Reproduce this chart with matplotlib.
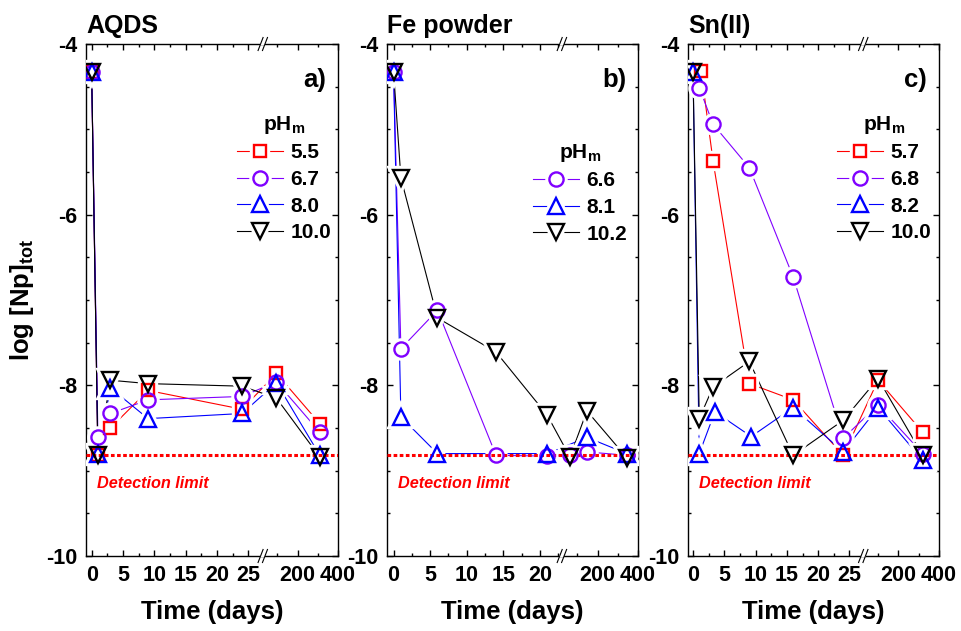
import matplotlib
matplotlib.use("Agg")
import matplotlib.pyplot as plt
import matplotlib.transforms as mtransforms
import numpy as np
from matplotlib.lines import Line2D
from matplotlib.patches import Rectangle
from matplotlib.ticker import FixedLocator, MultipleLocator, FuncFormatter

plt.rcParams["font.family"] = ["Liberation Sans", "DejaVu Sans"]
plt.rcParams["font.weight"] = "bold"
plt.rcParams["axes.unicode_minus"] = False
plt.rcParams["mathtext.fontset"] = "custom"
plt.rcParams["mathtext.rm"] = "Liberation Sans:bold"
plt.rcParams["mathtext.bf"] = "Liberation Sans:bold"

DETECTION_LIMIT = -8.82

# a) AQDS - all pH series sampled on the same days
aqds_days = [0, 1, 3, 9, 24, 95, 310]
aqds_ph55 = [-4.33, -8.82, -8.50, -8.06, -8.28, -7.86, -8.45]
aqds_ph67 = [-4.33, -8.60, -8.33, -8.17, -8.13, -7.96, -8.55]
aqds_ph80 = [-4.33, -8.80, -8.03, -8.39, -8.33, -7.97, -8.82]
aqds_ph100 = [-4.33, -8.82, -7.94, -7.98, -8.01, -8.15, -8.84]

# b) Fe powder
fe_days_66 = [0, 1, 6, 14, 21, 63, 147, 345]
fe_ph66 = [-4.33, -7.57, -7.12, -8.82, -8.83, -8.82, -8.78, -8.82]
fe_days_81 = [0, 1, 6, 21, 147, 345]
fe_ph81 = [-4.33, -8.37, -8.80, -8.80, -8.61, -8.80]
fe_days_102 = [0, 1, 6, 14, 21, 63, 147, 345]
fe_ph102 = [-4.33, -5.57, -7.21, -7.61, -8.35, -8.84, -8.30, -8.85]

# c) Sn(II)
sn_days_57 = [1.3, 3.2, 9, 16, 24, 100, 320]
sn_ph57 = [-4.32, -5.37, -7.98, -8.17, -8.82, -7.94, -8.55]
sn_days_68 = [1, 3.2, 9, 16, 24, 100, 320]
sn_ph68 = [-4.51, -4.94, -5.45, -6.73, -8.62, -8.23, -8.80]
sn_days_82 = [0, 1, 3.5, 9.3, 16, 24, 100, 320]
sn_ph82 = [-4.33, -8.80, -8.31, -8.60, -8.26, -8.78, -8.26, -8.88]
sn_days_100 = [0, 1, 3.2, 9, 16, 24, 100, 320]
sn_ph100 = [-4.33, -8.39, -8.02, -7.72, -8.82, -8.41, -7.92, -8.82]

# colour, marker, marker size
STYLES = {
    "sq": ("#ff0000", "s", 9.2),
    "ci": ("#8000ff", "o", 10.2),
    "up": ("#0000ff", "^", 11.5),
    "dn": ("#000000", "v", 11.5),
}

FIG_W, FIG_H = 961, 631
AX_TOP, AX_BOTTOM = 44, 556

PANELS = [
    dict(title="AQDS", letter="a)", left=86, width=252, xmin=-0.9, b0=27.3, wr=12.0,
         major=[0, 5, 10, 15, 20, 25, 200, 400],
         minor=[2.5, 7.5, 12.5, 17.5, 22.5, 100, 300],
         legend_at=(237, 114),
         series=[("5.5", aqds_days, aqds_ph55, "sq"),
                 ("6.7", aqds_days, aqds_ph67, "ci"),
                 ("8.0", aqds_days, aqds_ph80, "up"),
                 ("10.0", aqds_days, aqds_ph100, "dn")]),
    dict(title="Fe powder", letter="b)", left=387, width=251, xmin=-0.9, b0=23.0, wr=10.4,
         major=[0, 5, 10, 15, 20, 200, 400],
         minor=[2.5, 7.5, 12.5, 17.5, 22.5, 100, 300],
         legend_at=(533, 142),
         series=[("6.6", fe_days_66, fe_ph66, "ci"),
                 ("8.1", fe_days_81, fe_ph81, "up"),
                 ("10.2", fe_days_102, fe_ph102, "dn")]),
    dict(title="Sn(II)", letter="c)", left=688, width=251, xmin=-0.8, b0=27.2, wr=12.1,
         major=[0, 5, 10, 15, 20, 25, 200, 400],
         minor=[2.5, 7.5, 12.5, 17.5, 22.5, 100, 300],
         legend_at=(837, 114),
         series=[("5.7", sn_days_57, sn_ph57, "sq"),
                 ("6.8", sn_days_68, sn_ph68, "ci"),
                 ("8.2", sn_days_82, sn_ph82, "up"),
                 ("10.0", sn_days_100, sn_ph100, "dn")]),
]


def broken_scale(b0, wr, xmax=400):
    # identity up to the break, then the long tail squeezed into wr units
    c = wr / (xmax - b0)

    def fwd(x):
        x = np.asarray(x, dtype=float)
        return np.where(x <= b0, x, b0 + (x - b0) * c)

    def inv(u):
        u = np.asarray(u, dtype=float)
        return np.where(u <= b0, u, b0 + (u - b0) / c)

    return fwd, inv


def draw_break(fig, ax, fx):
    for fy in (0.0, 1.0):
        tr = fig.dpi_scale_trans + mtransforms.ScaledTranslation(fx, fy, ax.transAxes)
        fig.add_artist(Rectangle((-0.025, -0.012), 0.05, 0.024, transform=tr,
                                 facecolor="white", edgecolor="none", zorder=5))
        for dx in (-0.022, 0.022):
            fig.add_artist(Line2D([dx - 0.025, dx + 0.025], [-0.065, 0.065], transform=tr,
                                  color="black", lw=0.8, zorder=6))


def draw_panel(fig, spec):
    rect = [spec["left"] / FIG_W, 1 - AX_BOTTOM / FIG_H,
            spec["width"] / FIG_W, (AX_BOTTOM - AX_TOP) / FIG_H]
    ax = fig.add_axes(rect)
    fwd, inv = broken_scale(spec["b0"], spec["wr"])
    ax.set_xscale("function", functions=(fwd, inv))

    handles, labels = [], []
    for label, days, vals, key in spec["series"]:
        color, marker, ms = STYLES[key]
        line, = ax.plot(days, vals, color=color, lw=0.8, zorder=2)
        halo, = ax.plot(days, vals, ls="none", marker=marker, ms=ms, mfc="white",
                        mec="white", mew=6, zorder=3)
        mk, = ax.plot(days, vals, ls="none", marker=marker, ms=ms, mfc="none",
                      mec=color, mew=1.7, zorder=4)
        handles.append((line, halo, mk))
        labels.append(label)

    ax.axhline(DETECTION_LIMIT, color="#ff0000", lw=2.2, dashes=(1.2, 0.8), zorder=3.5)

    ax.set_xlim(spec["xmin"], 400)
    ax.set_ylim(-10, -4)
    ax.xaxis.set_major_locator(FixedLocator(spec["major"]))
    ax.xaxis.set_minor_locator(FixedLocator(spec["minor"]))
    ax.xaxis.set_major_formatter(FuncFormatter(lambda v, p: f"{v:g}"))
    ax.yaxis.set_major_locator(MultipleLocator(2))
    ax.yaxis.set_minor_locator(MultipleLocator(0.5))
    ax.yaxis.set_major_formatter(FuncFormatter(lambda v, p: f"{v:g}"))
    ax.tick_params(which="both", direction="in", top=True, right=True, width=1, labelsize=15.5)
    ax.tick_params(which="major", length=4.5)
    ax.tick_params(which="minor", length=2.5)
    ax.tick_params(axis="x", pad=6.5)
    ax.tick_params(axis="y", pad=6)
    for sp in ax.spines.values():
        sp.set_linewidth(1.0)

    fx = (spec["b0"] - spec["xmin"]) / (spec["b0"] + spec["wr"] - spec["xmin"])
    draw_break(fig, ax, fx)

    left, right = spec["left"], spec["left"] + spec["width"]
    fig.text(left / FIG_W, 1 - 33 / FIG_H, spec["title"], fontsize=18, va="baseline")
    fig.text((right - 12) / FIG_W, 1 - 87 / FIG_H, spec["letter"], fontsize=18.5,
             ha="right", va="baseline")
    fig.text((left + 11) / FIG_W, 1 - 483 / FIG_H, "Detection limit", color="#ff0000",
             fontsize=11.7, style="italic", va="center")
    fig.text((left + right) / 2 / FIG_W, 1 - 612 / FIG_H, "Time (days)", fontsize=18.5,
             ha="center", va="center")

    lx, ly = spec["legend_at"]
    fig.legend(handles, labels, loc="upper left",
               bbox_to_anchor=(lx / FIG_W, 1 - ly / FIG_H),
               title=r"pH$_\mathbf{m}$",
               prop={"weight": "bold", "size": 15},
               title_fontproperties={"weight": "bold", "size": 15},
               frameon=False, borderpad=0, borderaxespad=0,
               handlelength=2.2, handletextpad=0.35, labelspacing=0.36)
    return ax


def main():
    fig = plt.figure(figsize=(FIG_W / 100, FIG_H / 100), dpi=100)
    for spec in PANELS:
        draw_panel(fig, spec)
    fig.text(22 / FIG_W, 1 - 300 / FIG_H, r"log [Np]$_\mathbf{tot}$", fontsize=18.5,
             rotation=90, ha="center", va="center")
    fig.savefig("out.png", dpi=100)
    plt.close(fig)


if __name__ == "__main__":
    main()
